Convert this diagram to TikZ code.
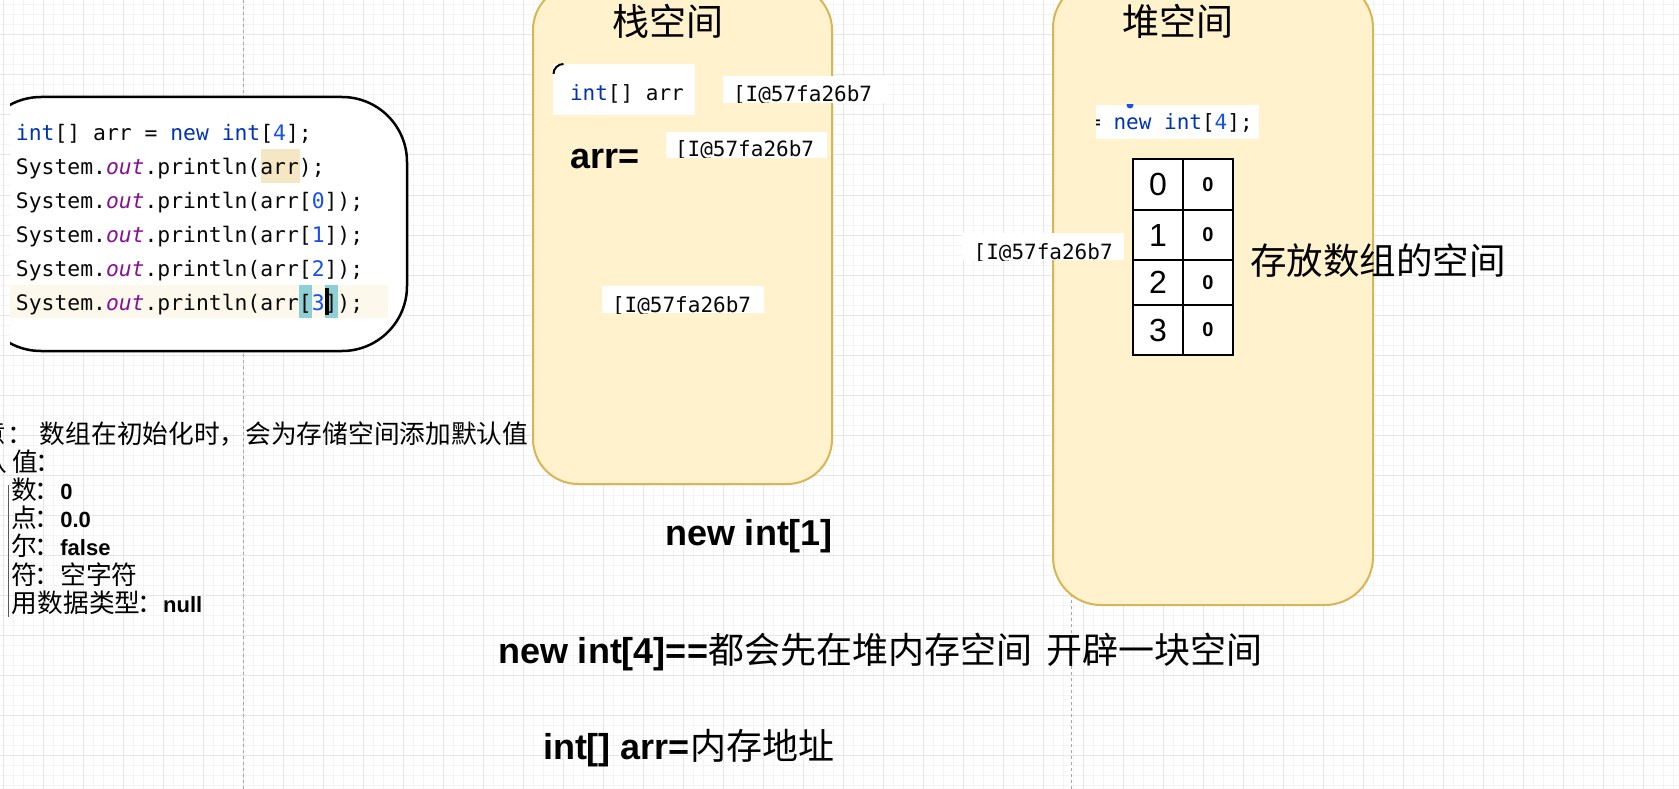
\documentclass[tikz,border=0pt]{standalone}
\usepackage{fontspec}
\setmainfont{Liberation Sans}
\newfontfamily\cjkf{Noto Sans CJK SC}
\newfontfamily\monof{DejaVu Sans Mono}
\definecolor{kw}{HTML}{0033B3}
\definecolor{num}{HTML}{1750EB}
\definecolor{fld}{HTML}{871094}
\definecolor{txt}{HTML}{080808}
\definecolor{memfill}{HTML}{FFF2CC}
\definecolor{memdraw}{HTML}{D6B656}
\definecolor{gridminor}{HTML}{F4F4F4}
\definecolor{gridmajor}{HTML}{E6E6E6}
\definecolor{pagebreak}{HTML}{A6A6A6}
\definecolor{hlarr}{HTML}{F5E7C3}
\definecolor{hlline}{HTML}{FDF8EC}
\definecolor{hlbr}{HTML}{8FD0D7}
\newcommand\fsz[1]{\fontsize{#1}{#1}\selectfont}
\newcommand\bnumfont{\rmfamily\bfseries\fsz{22}}
\newcommand\ncolon{\kern-3pt ：}
\begin{document}
\begin{tikzpicture}[x=1pt,y=-1pt,
  every node/.style={inner sep=0pt, outer sep=0pt},
  code/.style={anchor=base west, font=\monof\fsz{21.36}, text=txt},
  addr/.style={anchor=base west, font=\monof\fsz{21}, text=txt},
  whitebox/.style={fill=white, draw=none, anchor=north west},
  mem/.style={fill=memfill, draw=memdraw, line width=2pt, anchor=north west},
  big/.style={anchor=base west, font=\bfseries\fsz{36}, text=black},
  title/.style={font=\cjkf\fsz{37}, text=black},
  note/.style={anchor=base west, font=\cjkf\fsz{25.7}, text=black},
  cellL/.style={draw=black, line width=2pt, fill=white, anchor=north west, minimum width=50pt, font=\fsz{32}},
  cellR/.style={draw=black, line width=2pt, fill=white, anchor=north west, minimum width=50pt, font=\bfseries\fsz{20}},
  minorline/.style={draw=gridminor, line width=1pt},
  majorline/.style={draw=gridmajor, line width=1pt},
  pageline/.style={draw=pagebreak, line width=1pt, dash pattern=on 3pt off 3pt},
]
\useasboundingbox (0,0) rectangle (1679,789);
\fill[white] (0,0) rectangle (1679,789);
% grid
\foreach \gx in {3,13,...,1673} \draw[minorline] (\gx,0) -- (\gx,789);
\foreach \gy in {5,15,...,785} \draw[minorline] (0,\gy) -- (1679,\gy);
\foreach \gx in {3,43,...,1643} \draw[majorline] (\gx,0) -- (\gx,789);
\foreach \gy in {35,75,...,755} \draw[majorline] (0,\gy) -- (1679,\gy);
\draw[pageline] (243.5,0) -- (243.5,789);
\draw[pageline] (1071,0) -- (1071,789);

% memory areas
\node[mem, rounded corners=45pt, minimum width=299pt, minimum height=499pt] (stack) at (533,-15) {};
\node[mem, rounded corners=48pt, minimum width=320pt, minimum height=625pt] (heap) at (1053,-20) {};
\node[title] (stacktitle) at (668,21) {栈空间};
\node[title] (heaptitle) at (1178,21) {堆空间};

% code box
\begin{scope}
\clip (10,-10) rectangle (1700,800);
\node[draw=black, line width=2.5pt, fill=white, rounded corners=65pt, minimum width=431pt, minimum height=254pt, anchor=north west] (codebox) at (-24,97) {};
\end{scope}
\fill[hlline] (10,285) rectangle (388,318);
\fill[hlarr] (261,149) rectangle (300,183);
\fill[hlbr] (299,285) rectangle (312,318);
\fill[hlbr] (325,285) rectangle (338,318);
\node[code] (l1) at (16,141) {\textcolor{kw}{int}[] arr = \textcolor{kw}{new} \textcolor{kw}{int}[\textcolor{num}{4}];};
\node[code] (l2) at (16,174.3) {System.\textcolor{fld}{\itshape out}.println(arr);};
\node[code] (l3) at (16,208.3) {System.\textcolor{fld}{\itshape out}.println(arr[\textcolor{num}{0}]);};
\node[code] (l4) at (16,242.3) {System.\textcolor{fld}{\itshape out}.println(arr[\textcolor{num}{1}]);};
\node[code] (l5) at (16,276.3) {System.\textcolor{fld}{\itshape out}.println(arr[\textcolor{num}{2}]);};
\node[code] (l6) at (16,310) {System.\textcolor{fld}{\itshape out}.println(arr[\textcolor{num}{3}]);};
\fill[black] (325,288) rectangle (328.5,315);

% stack contents
\node[whitebox, minimum width=142pt, minimum height=51pt] (intarrbox) at (553,64) {};
\draw[black, line width=2pt] (553.5,74) arc[start angle=180, end angle=270, radius=10];
\node[addr] (intarr) at (570,100.7) {\textcolor{kw}{int}[] arr};
\node[whitebox, minimum width=165pt, minimum height=27pt] (a1box) at (723,76) {};
\begin{scope}
\clip (723,76) rectangle (888,103);
\node[addr] (a1) at (733,102) {[I@57fa26b7};
\end{scope}
\node[big] (arreq) at (570,168) {arr=};
\node[whitebox, minimum width=161pt, minimum height=26pt] (a2box) at (666,132) {};
\begin{scope}
\clip (666,132) rectangle (827,158);
\node[addr] (a2) at (675,157) {[I@57fa26b7};
\end{scope}
\node[whitebox, minimum width=162pt, minimum height=27pt] (a3box) at (602,286) {};
\begin{scope}
\clip (602,286) rectangle (764,313);
\node[addr] (a3) at (612,312) {[I@57fa26b7};
\end{scope}

% heap contents
\node[whitebox, minimum width=163pt, minimum height=34pt] (newbox) at (1096,105) {};
\begin{scope}
\clip (1096,105) rectangle (1259,139);
\node[addr] (newtxt) at (1088.3,130) {= \textcolor{kw}{new} \textcolor{kw}{int}[\textcolor{num}{4}];};
\fill[num] (1130,105) circle (3.5);
\end{scope}
\node[whitebox, minimum width=162pt, minimum height=27pt] (a4box) at (962,233) {};
\begin{scope}
\clip (962,233) rectangle (1124,260);
\node[addr] (a4) at (973.6,259) {[I@57fa26b7};
\end{scope}
\node[cellL, minimum height=51pt] (k0) at (1133,159) {0};
\node[cellR, minimum height=51pt] (v0) at (1183,159) {0};
\node[cellL, minimum height=50pt] (k1) at (1133,210) {1};
\node[cellR, minimum height=50pt] (v1) at (1183,210) {0};
\node[cellL, minimum height=45pt] (k2) at (1133,260) {2};
\node[cellR, minimum height=45pt] (v2) at (1183,260) {0};
\node[cellL, minimum height=50pt] (k3) at (1133,305) {3};
\node[cellR, minimum height=50pt] (v3) at (1183,305) {0};
\node[font=\cjkf\fsz{36.5}] (desc) at (1378,261) {存放数组的空间};

% bottom statements
\node[big] (new1) at (665,545) {new int[1]};
\node[big] (new4) at (498,663) {new int[4]==\cjkf\mdseries 都会先在堆内存空间\hspace{14pt}开辟一块空间};
\node[big] (addrline) at (543,759) {int[] arr=\cjkf\mdseries 内存地址};

% notes (cut at the left edge)
\draw[draw=black!65, line width=0.8pt] (8.5,485) -- (8.5,617);
\node[note] (n1) at (-45.4,443) {注意\kern2pt ：\kern6.3pt 数组在初始化时，会为存储空间添加默认值};
\node[note] (n2) at (-44.4,471.2) {默认\kern6pt 值\ncolon};
\node[note] (n3) at (-25.7,499.4) {整\kern12pt 数\ncolon{\bnumfont 0}};
\node[note] (n4) at (-25.7,527.6) {浮\kern12pt 点\ncolon{\bnumfont 0.0}};
\node[note] (n5) at (-25.7,555.8) {布\kern12pt 尔\ncolon{\bnumfont false}};
\node[note] (n6) at (-25.7,584) {字\kern12pt 符\ncolon 空字符};
\node[note] (n7) at (-25.7,612.2) {引\kern12pt 用数据类型\ncolon{\bnumfont null}};
\end{tikzpicture}
\end{document}
